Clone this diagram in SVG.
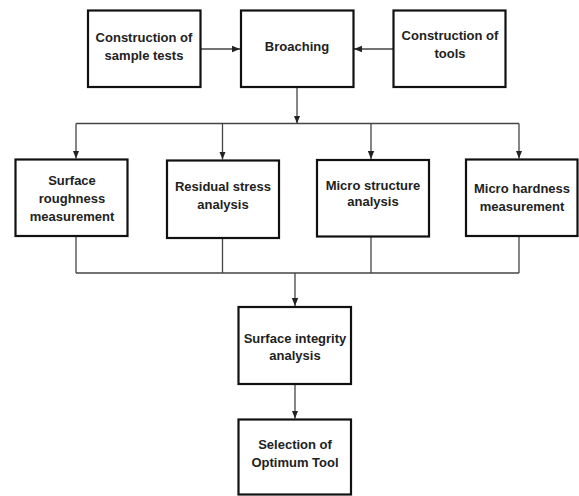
<svg xmlns="http://www.w3.org/2000/svg" width="579" height="496" viewBox="0 0 579 496">
<defs>
<marker id="ah" viewBox="0 0 8 8" refX="8" refY="4" markerWidth="8" markerHeight="8" markerUnits="userSpaceOnUse" orient="auto">
<path d="M0,0.8 L8,4 L0,7.2 Z" fill="#222"/>
</marker>
<style>
.box{fill:#fff;stroke:#111;stroke-width:2.2}
.t{font-family:"Liberation Sans",Arial,sans-serif;font-weight:bold;font-size:13px;fill:#222;text-anchor:middle}
.c{fill:none;stroke:#444;stroke-width:1.3}
</style>
</defs>
<rect width="579" height="496" fill="#fff"/>
<g id="connectors">
<line class="c" x1="201" y1="49" x2="240" y2="49" marker-end="url(#ah)"/>
<line class="c" x1="393" y1="49" x2="354" y2="49" marker-end="url(#ah)"/>
<line class="c" x1="297" y1="87" x2="297" y2="123.5" marker-end="url(#ah)"/>
<line class="c" x1="76" y1="123.5" x2="519" y2="123.5"/>
<line class="c" x1="76" y1="123.5" x2="76" y2="158.5" marker-end="url(#ah)"/>
<line class="c" x1="222.5" y1="123.5" x2="222.5" y2="159.5" marker-end="url(#ah)"/>
<line class="c" x1="371" y1="123.5" x2="371" y2="159" marker-end="url(#ah)"/>
<line class="c" x1="519" y1="123.5" x2="519" y2="158.5" marker-end="url(#ah)"/>
<line class="c" x1="76" y1="236" x2="76" y2="273"/>
<line class="c" x1="222.5" y1="238" x2="222.5" y2="273"/>
<line class="c" x1="371" y1="236.5" x2="371" y2="273"/>
<line class="c" x1="519" y1="236" x2="519" y2="273"/>
<line class="c" x1="76" y1="273" x2="519" y2="273"/>
<line class="c" x1="295" y1="273" x2="295" y2="306" marker-end="url(#ah)"/>
<line class="c" x1="295" y1="384" x2="295" y2="418.5" marker-end="url(#ah)"/>
</g>
<g id="n-sample">
<rect class="box" x="88" y="10.5" width="112.5" height="76.5"/>
<text class="t" x="144" y="41.5">Construction of</text>
<text class="t" x="144" y="59.5">sample tests</text>
</g>
<g id="n-broaching">
<rect class="box" x="241" y="10.5" width="112.5" height="76.5"/>
<text class="t" x="297" y="51">Broaching</text>
</g>
<g id="n-tools">
<rect class="box" x="393.5" y="10.5" width="112" height="76.5"/>
<text class="t" x="450" y="39.5">Construction of</text>
<text class="t" x="450" y="58">tools</text>
</g>
<g id="n-roughness">
<rect class="box" x="15.5" y="159.5" width="112" height="76.5"/>
<text class="t" x="72" y="184.5">Surface</text>
<text class="t" x="72" y="203">roughness</text>
<text class="t" x="72" y="220.5">measurement</text>
</g>
<g id="n-residual">
<rect class="box" x="167" y="160.5" width="112" height="77.5"/>
<text class="t" x="223" y="191">Residual stress</text>
<text class="t" x="223" y="208.5">analysis</text>
</g>
<g id="n-micro-structure">
<rect class="box" x="317" y="160" width="112" height="76.5"/>
<text class="t" x="373" y="189.5">Micro structure</text>
<text class="t" x="373" y="206">analysis</text>
</g>
<g id="n-micro-hardness">
<rect class="box" x="466" y="159.5" width="111.5" height="76.5"/>
<text class="t" x="522" y="193">Micro hardness</text>
<text class="t" x="522" y="211">measurement</text>
</g>
<g id="n-integrity">
<rect class="box" x="238.5" y="307" width="112.5" height="77"/>
<text class="t" x="295" y="343">Surface integrity</text>
<text class="t" x="295" y="359.5">analysis</text>
</g>
<g id="n-selection">
<rect class="box" x="238.5" y="419.5" width="112.5" height="75"/>
<text class="t" x="295" y="449">Selection of</text>
<text class="t" x="295" y="466.5">Optimum Tool</text>
</g>
</svg>
